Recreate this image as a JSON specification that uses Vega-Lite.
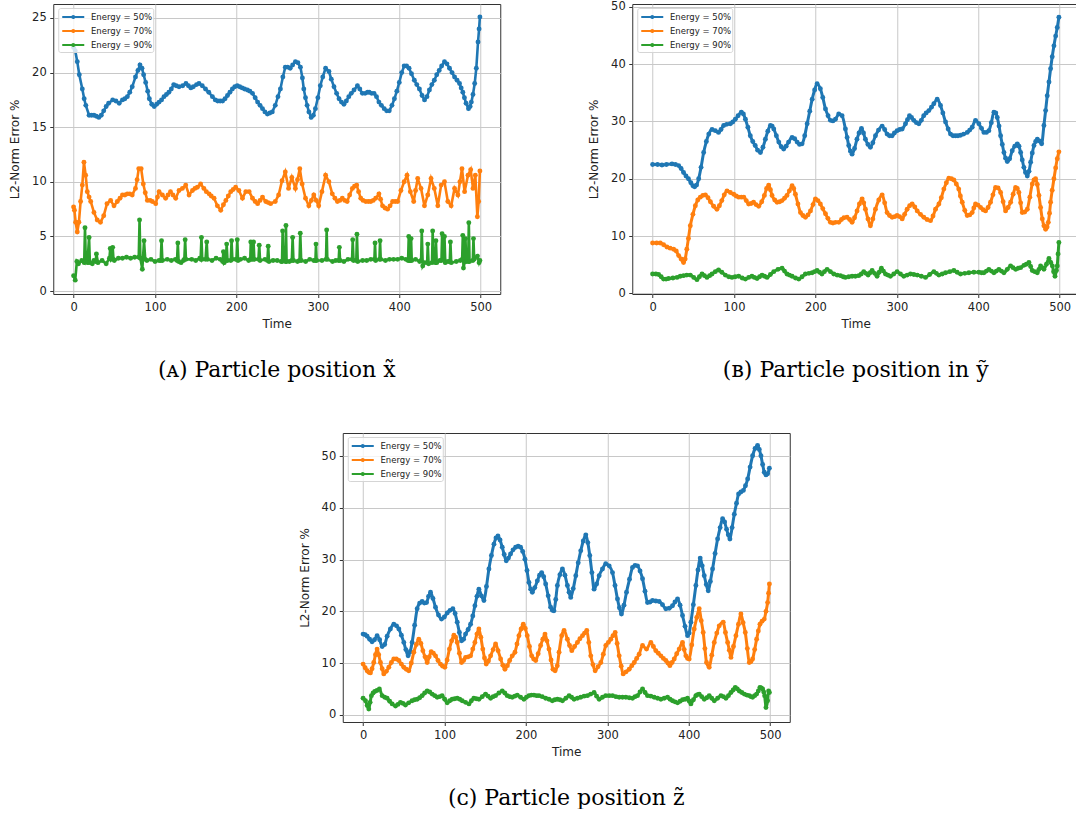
{
"$schema":"https://vega.github.io/schema/vega-lite/v6.json",
"background":"white",
"padding":{"left":8,"top":0,"right":0,"bottom":0},
"datasets":{
"a5":[{"t":0,"v":22.3},{"t":2,"v":22.0},{"t":4.5,"v":21.0},{"t":7,"v":19.8},{"t":10.7,"v":18.5},{"t":13,"v":17.6},{"t":15,"v":17.0},{"t":19,"v":16.1},{"t":22,"v":16.1},{"t":25,"v":16.1},{"t":28,"v":16.0},{"t":31,"v":15.9},{"t":34,"v":16.1},{"t":37,"v":16.5},{"t":40,"v":16.9},{"t":43,"v":17.2},{"t":48,"v":17.5},{"t":52,"v":17.4},{"t":56,"v":17.2},{"t":60,"v":17.5},{"t":63,"v":17.6},{"t":66,"v":17.8},{"t":69,"v":18.2},{"t":72,"v":18.7},{"t":76,"v":19.6},{"t":79,"v":20.2},{"t":81.5,"v":20.7},{"t":84,"v":20.4},{"t":86,"v":19.8},{"t":88.5,"v":19.1},{"t":91,"v":18.3},{"t":93,"v":17.6},{"t":96,"v":17.1},{"t":99,"v":16.9},{"t":102,"v":17.1},{"t":105,"v":17.3},{"t":108,"v":17.5},{"t":111,"v":17.8},{"t":114,"v":18.0},{"t":117,"v":18.2},{"t":120,"v":18.5},{"t":123,"v":18.9},{"t":126,"v":18.8},{"t":129.5,"v":18.7},{"t":134,"v":18.8},{"t":138,"v":19.0},{"t":141,"v":18.8},{"t":144,"v":18.6},{"t":147,"v":18.7},{"t":151,"v":18.9},{"t":154,"v":19.0},{"t":158,"v":18.8},{"t":162,"v":18.5},{"t":166,"v":18.2},{"t":170.5,"v":17.8},{"t":174,"v":17.5},{"t":177,"v":17.4},{"t":180,"v":17.4},{"t":183,"v":17.4},{"t":186,"v":17.6},{"t":189,"v":17.9},{"t":192,"v":18.2},{"t":195,"v":18.5},{"t":198,"v":18.7},{"t":201,"v":18.8},{"t":204,"v":18.7},{"t":207,"v":18.6},{"t":210,"v":18.5},{"t":213.5,"v":18.4},{"t":216.5,"v":18.3},{"t":219.7,"v":18.1},{"t":223,"v":17.7},{"t":226,"v":17.3},{"t":229,"v":17.0},{"t":232,"v":16.7},{"t":235,"v":16.4},{"t":238,"v":16.2},{"t":241,"v":16.3},{"t":244,"v":16.4},{"t":247.7,"v":17.0},{"t":251,"v":17.8},{"t":254,"v":18.5},{"t":257,"v":19.6},{"t":260,"v":20.5},{"t":263,"v":20.5},{"t":266,"v":20.4},{"t":269,"v":20.7},{"t":272.4,"v":21.0},{"t":275.5,"v":20.9},{"t":278.6,"v":20.5},{"t":281,"v":19.5},{"t":282.7,"v":18.5},{"t":284.8,"v":17.7},{"t":286.8,"v":17.0},{"t":289,"v":16.4},{"t":291.8,"v":15.9},{"t":294.5,"v":16.1},{"t":297,"v":16.7},{"t":300,"v":17.7},{"t":303,"v":18.8},{"t":306,"v":19.6},{"t":309.5,"v":20.4},{"t":313.6,"v":20.1},{"t":316.5,"v":19.4},{"t":319.8,"v":18.7},{"t":323,"v":18.1},{"t":326,"v":17.6},{"t":329,"v":17.3},{"t":332,"v":17.1},{"t":335,"v":17.4},{"t":338,"v":17.8},{"t":341,"v":18.1},{"t":344.4,"v":18.4},{"t":348.6,"v":18.8},{"t":351.5,"v":18.5},{"t":354.7,"v":18.1},{"t":358,"v":18.1},{"t":361,"v":18.2},{"t":363,"v":18.2},{"t":366,"v":18.1},{"t":369,"v":18.1},{"t":372,"v":17.8},{"t":375,"v":17.3},{"t":378,"v":17.0},{"t":381.5,"v":16.7},{"t":384.5,"v":16.5},{"t":387.7,"v":16.5},{"t":391,"v":17.0},{"t":394,"v":17.6},{"t":397,"v":18.3},{"t":400,"v":19.1},{"t":403,"v":20.0},{"t":406,"v":20.6},{"t":409,"v":20.6},{"t":412,"v":20.4},{"t":415,"v":19.9},{"t":418.5,"v":19.3},{"t":421.5,"v":18.9},{"t":424.7,"v":18.5},{"t":428,"v":17.9},{"t":431,"v":17.5},{"t":434,"v":17.8},{"t":437,"v":18.4},{"t":440,"v":18.9},{"t":443,"v":19.3},{"t":446,"v":19.8},{"t":449,"v":20.2},{"t":452,"v":20.6},{"t":455.5,"v":21.0},{"t":458.5,"v":20.8},{"t":461.7,"v":20.4},{"t":464.8,"v":20.0},{"t":467.9,"v":19.6},{"t":471,"v":19.3},{"t":474,"v":19.0},{"t":476,"v":18.6},{"t":478,"v":18.2},{"t":480,"v":17.7},{"t":482,"v":17.2},{"t":485,"v":16.7},{"t":487,"v":16.9},{"t":488.5,"v":17.3},{"t":490.5,"v":18.0},{"t":492.6,"v":19.0},{"t":494.6,"v":20.4},{"t":496.7,"v":22.8},{"t":498,"v":24.0},{"t":499,"v":25.1}],
"a7":[{"t":0,"v":7.7},{"t":1,"v":7.4},{"t":2.5,"v":6.3},{"t":4.5,"v":5.4},{"t":6.5,"v":6.3},{"t":8.6,"v":8.2},{"t":10.7,"v":9.7},{"t":12.7,"v":11.8},{"t":14.8,"v":10.6},{"t":16.8,"v":9.1},{"t":19,"v":8.6},{"t":21,"v":8.2},{"t":25,"v":7.2},{"t":29,"v":6.5},{"t":33,"v":6.3},{"t":37,"v":6.9},{"t":41,"v":8.0},{"t":45.5,"v":8.3},{"t":49.6,"v":7.8},{"t":53.7,"v":8.2},{"t":57,"v":8.5},{"t":60,"v":8.8},{"t":63,"v":8.8},{"t":66,"v":8.9},{"t":69,"v":8.9},{"t":72,"v":8.8},{"t":76,"v":9.4},{"t":78,"v":10.2},{"t":80,"v":11.2},{"t":83,"v":11.2},{"t":85.6,"v":9.8},{"t":88,"v":9.0},{"t":90.6,"v":8.3},{"t":94,"v":8.3},{"t":96.7,"v":8.2},{"t":100.8,"v":8.0},{"t":103,"v":8.6},{"t":105,"v":9.1},{"t":109,"v":8.8},{"t":113,"v":8.5},{"t":116,"v":8.8},{"t":119,"v":9.1},{"t":122,"v":8.8},{"t":125.4,"v":8.5},{"t":129.5,"v":9.2},{"t":133.6,"v":9.4},{"t":137.7,"v":9.7},{"t":141.8,"v":8.8},{"t":146,"v":9.2},{"t":149,"v":9.4},{"t":152,"v":9.5},{"t":156,"v":9.8},{"t":160,"v":9.4},{"t":163,"v":9.1},{"t":166.4,"v":8.9},{"t":169,"v":8.7},{"t":172.5,"v":8.5},{"t":176.6,"v":7.8},{"t":180.7,"v":7.4},{"t":184,"v":7.9},{"t":187,"v":8.3},{"t":190,"v":8.7},{"t":193,"v":9.1},{"t":196,"v":9.3},{"t":199,"v":9.5},{"t":203,"v":9.2},{"t":207.4,"v":8.5},{"t":211.5,"v":9.1},{"t":215.6,"v":9.1},{"t":219.7,"v":8.5},{"t":223,"v":8.2},{"t":226,"v":8.0},{"t":229,"v":8.3},{"t":232,"v":8.6},{"t":236,"v":8.2},{"t":239,"v":8.1},{"t":242,"v":8.0},{"t":247.7,"v":8.2},{"t":251.8,"v":8.8},{"t":256,"v":10.1},{"t":260,"v":10.9},{"t":264,"v":9.4},{"t":268,"v":10.4},{"t":272.4,"v":9.4},{"t":275,"v":10.2},{"t":277.8,"v":11.2},{"t":280.7,"v":9.8},{"t":284.8,"v":8.5},{"t":288.9,"v":7.8},{"t":292,"v":8.3},{"t":295,"v":8.8},{"t":298,"v":8.3},{"t":301,"v":7.8},{"t":305,"v":9.1},{"t":309.5,"v":10.6},{"t":313.6,"v":10.0},{"t":317.7,"v":8.9},{"t":321,"v":8.5},{"t":324,"v":8.2},{"t":327,"v":8.3},{"t":330,"v":8.5},{"t":333,"v":8.3},{"t":336,"v":8.2},{"t":339,"v":8.8},{"t":342.4,"v":9.4},{"t":345,"v":9.6},{"t":347.7,"v":9.7},{"t":350,"v":9.1},{"t":352.7,"v":8.5},{"t":355.5,"v":8.3},{"t":358.8,"v":8.2},{"t":362,"v":8.2},{"t":365,"v":8.2},{"t":368,"v":8.3},{"t":371,"v":8.5},{"t":375,"v":8.9},{"t":377,"v":8.4},{"t":379.4,"v":7.8},{"t":382.5,"v":7.6},{"t":385.6,"v":7.5},{"t":388.7,"v":7.8},{"t":391.8,"v":8.2},{"t":395,"v":8.2},{"t":398,"v":8.2},{"t":402,"v":9.2},{"t":406,"v":10.0},{"t":409.5,"v":10.6},{"t":413.6,"v":9.1},{"t":417.7,"v":8.2},{"t":420,"v":9.2},{"t":422.6,"v":10.3},{"t":426.7,"v":9.4},{"t":430.9,"v":7.8},{"t":435,"v":8.8},{"t":439,"v":10.3},{"t":443,"v":9.4},{"t":447.3,"v":7.8},{"t":451.4,"v":9.7},{"t":455.5,"v":10.0},{"t":459.6,"v":8.2},{"t":463.7,"v":7.8},{"t":467.9,"v":9.4},{"t":472,"v":8.8},{"t":474.5,"v":10.0},{"t":477,"v":11.2},{"t":480.2,"v":9.1},{"t":484.4,"v":10.6},{"t":487.7,"v":11.1},{"t":490.5,"v":9.4},{"t":493.4,"v":10.6},{"t":495.9,"v":6.8},{"t":497.5,"v":8.2},{"t":499,"v":11.0}],
"a9":[{"t":0,"v":1.4},{"t":2,"v":1.0},{"t":4,"v":2.7},{"t":6,"v":2.5},{"t":10,"v":2.8},{"t":13,"v":2.6},{"t":14,"v":5.8},{"t":15,"v":2.7},{"t":17,"v":2.6},{"t":19,"v":4.9},{"t":20,"v":2.6},{"t":23,"v":2.5},{"t":25,"v":2.8},{"t":27,"v":2.7},{"t":28,"v":3.4},{"t":30,"v":2.6},{"t":35,"v":2.8},{"t":40,"v":2.5},{"t":44,"v":3.0},{"t":45,"v":3.9},{"t":46,"v":2.9},{"t":47,"v":3.0},{"t":48,"v":4.0},{"t":49,"v":2.9},{"t":50,"v":2.8},{"t":55,"v":3.0},{"t":60,"v":3.0},{"t":65,"v":3.1},{"t":70,"v":3.0},{"t":75,"v":3.1},{"t":80,"v":3.1},{"t":81,"v":6.5},{"t":82,"v":3.0},{"t":84.4,"v":2.0},{"t":86.5,"v":4.6},{"t":88,"v":2.9},{"t":90,"v":2.8},{"t":95,"v":2.9},{"t":100,"v":2.7},{"t":105,"v":2.8},{"t":107,"v":2.8},{"t":108,"v":4.6},{"t":109,"v":2.8},{"t":115,"v":2.9},{"t":120,"v":2.8},{"t":125,"v":2.9},{"t":127,"v":2.8},{"t":128,"v":4.4},{"t":129,"v":2.7},{"t":132,"v":2.6},{"t":135,"v":2.8},{"t":136,"v":2.9},{"t":137,"v":4.7},{"t":138,"v":2.9},{"t":145,"v":2.9},{"t":150,"v":2.8},{"t":155,"v":3.0},{"t":156,"v":2.9},{"t":157,"v":4.9},{"t":158,"v":2.9},{"t":162,"v":2.9},{"t":163.5,"v":4.5},{"t":164.5,"v":2.9},{"t":170,"v":2.8},{"t":175,"v":3.0},{"t":180,"v":2.9},{"t":183,"v":2.7},{"t":184,"v":3.6},{"t":185,"v":2.6},{"t":187,"v":2.8},{"t":188,"v":4.3},{"t":189,"v":2.8},{"t":193,"v":2.8},{"t":194,"v":4.6},{"t":195,"v":2.9},{"t":199,"v":2.9},{"t":200,"v":2.9},{"t":201,"v":4.7},{"t":202,"v":2.8},{"t":205,"v":2.9},{"t":210,"v":3.0},{"t":215,"v":2.8},{"t":217,"v":2.9},{"t":217.6,"v":4.5},{"t":218.5,"v":2.9},{"t":220.3,"v":2.9},{"t":221,"v":4.5},{"t":222,"v":2.9},{"t":227,"v":2.9},{"t":228,"v":4.2},{"t":229,"v":2.8},{"t":235,"v":2.9},{"t":238,"v":2.8},{"t":239,"v":4.1},{"t":240,"v":2.7},{"t":245,"v":2.8},{"t":250,"v":2.8},{"t":255,"v":2.7},{"t":256,"v":2.7},{"t":256.7,"v":5.5},{"t":257.5,"v":2.8},{"t":260,"v":2.7},{"t":260.8,"v":6.0},{"t":261.6,"v":2.7},{"t":265,"v":2.7},{"t":268,"v":2.8},{"t":269,"v":4.9},{"t":270,"v":2.8},{"t":275,"v":2.7},{"t":277.5,"v":2.8},{"t":278.4,"v":5.3},{"t":279.5,"v":2.8},{"t":285,"v":2.7},{"t":290,"v":2.9},{"t":295,"v":2.8},{"t":297,"v":2.8},{"t":297.7,"v":4.3},{"t":298.5,"v":2.8},{"t":305,"v":2.8},{"t":310,"v":2.9},{"t":310.8,"v":5.6},{"t":311.6,"v":2.9},{"t":318,"v":2.7},{"t":322,"v":2.8},{"t":325.5,"v":2.8},{"t":326.4,"v":4.0},{"t":327.3,"v":2.8},{"t":332,"v":2.7},{"t":337,"v":2.9},{"t":342,"v":2.9},{"t":342.8,"v":4.7},{"t":343.8,"v":2.8},{"t":347.2,"v":2.8},{"t":348,"v":5.2},{"t":349,"v":2.7},{"t":355,"v":2.8},{"t":360,"v":2.8},{"t":365,"v":2.9},{"t":369.4,"v":2.9},{"t":370.2,"v":4.4},{"t":371,"v":2.8},{"t":375.6,"v":2.9},{"t":376.4,"v":4.6},{"t":377.2,"v":2.9},{"t":383,"v":2.8},{"t":388,"v":2.9},{"t":393,"v":2.9},{"t":398,"v":2.9},{"t":403,"v":3.0},{"t":408,"v":2.9},{"t":410.8,"v":2.8},{"t":411.6,"v":5.0},{"t":412.5,"v":2.8},{"t":413.8,"v":2.8},{"t":414.5,"v":4.8},{"t":415.3,"v":2.8},{"t":420,"v":2.9},{"t":425,"v":2.7},{"t":426.8,"v":2.8},{"t":427.6,"v":5.5},{"t":428.8,"v":2.3},{"t":431,"v":2.6},{"t":434.2,"v":2.6},{"t":435,"v":4.3},{"t":436,"v":2.5},{"t":440.2,"v":2.6},{"t":441,"v":5.5},{"t":442,"v":2.7},{"t":444.2,"v":2.6},{"t":445,"v":4.6},{"t":446,"v":2.6},{"t":450,"v":2.8},{"t":451.8,"v":2.8},{"t":452.6,"v":5.25},{"t":453.6,"v":2.9},{"t":454.8,"v":2.9},{"t":455.5,"v":5.0},{"t":456.5,"v":2.6},{"t":460,"v":2.7},{"t":462,"v":2.7},{"t":462.8,"v":4.5},{"t":463.8,"v":2.6},{"t":470,"v":2.7},{"t":475,"v":2.8},{"t":477.2,"v":2.9},{"t":478,"v":5.1},{"t":478.8,"v":2.1},{"t":480.5,"v":2.7},{"t":481.3,"v":4.8},{"t":482.2,"v":2.7},{"t":484.6,"v":2.7},{"t":485.4,"v":6.26},{"t":486.3,"v":2.7},{"t":490.3,"v":2.8},{"t":491.1,"v":4.8},{"t":492,"v":2.9},{"t":496,"v":3.2},{"t":498,"v":2.6},{"t":499,"v":2.8}],
"b5":[{"t":0,"v":22.5},{"t":6,"v":22.5},{"t":11.5,"v":22.4},{"t":17,"v":22.5},{"t":23.8,"v":22.6},{"t":28,"v":22.5},{"t":32,"v":22.3},{"t":35,"v":21.8},{"t":38,"v":21.1},{"t":41,"v":20.5},{"t":44,"v":20.0},{"t":47,"v":19.3},{"t":49.5,"v":18.8},{"t":51.6,"v":18.6},{"t":54,"v":18.9},{"t":56.6,"v":20.0},{"t":59.5,"v":22.0},{"t":62.7,"v":24.6},{"t":66,"v":26.5},{"t":69,"v":27.8},{"t":73,"v":28.6},{"t":77,"v":28.4},{"t":81,"v":28.1},{"t":84,"v":28.6},{"t":87.3,"v":29.3},{"t":91,"v":29.5},{"t":95.5,"v":29.6},{"t":98.5,"v":29.9},{"t":101.6,"v":30.4},{"t":105,"v":31.0},{"t":109,"v":31.6},{"t":111.5,"v":31.3},{"t":114,"v":30.4},{"t":117,"v":29.0},{"t":120,"v":27.5},{"t":123,"v":26.5},{"t":126,"v":25.8},{"t":129,"v":25.0},{"t":132.4,"v":24.6},{"t":135.5,"v":25.5},{"t":138.5,"v":26.9},{"t":141.5,"v":28.3},{"t":144.7,"v":29.3},{"t":146.8,"v":29.2},{"t":148.8,"v":28.7},{"t":152,"v":27.5},{"t":155,"v":26.4},{"t":158,"v":25.6},{"t":161,"v":25.2},{"t":164,"v":25.7},{"t":167,"v":26.4},{"t":171.3,"v":27.2},{"t":174.5,"v":27.0},{"t":177.5,"v":26.4},{"t":180.5,"v":26.0},{"t":183.6,"v":26.1},{"t":186.8,"v":27.5},{"t":189.8,"v":29.6},{"t":193,"v":31.8},{"t":196,"v":33.9},{"t":199,"v":35.5},{"t":202,"v":36.6},{"t":206,"v":35.7},{"t":209,"v":34.2},{"t":212.3,"v":32.2},{"t":215.5,"v":31.0},{"t":218.4,"v":30.2},{"t":221.5,"v":30.1},{"t":224.6,"v":30.4},{"t":228.6,"v":31.3},{"t":232.7,"v":31.0},{"t":236.8,"v":28.7},{"t":238.9,"v":27.2},{"t":240.9,"v":25.8},{"t":243,"v":24.8},{"t":245,"v":24.3},{"t":248,"v":25.3},{"t":251,"v":26.9},{"t":253.5,"v":28.0},{"t":256.5,"v":28.8},{"t":259,"v":28.0},{"t":261.4,"v":26.9},{"t":264.5,"v":26.0},{"t":267.5,"v":25.5},{"t":270.5,"v":26.3},{"t":273.7,"v":27.5},{"t":277.5,"v":28.5},{"t":281.9,"v":29.2},{"t":285,"v":28.6},{"t":288,"v":27.8},{"t":291,"v":27.5},{"t":294.2,"v":27.5},{"t":297,"v":28.0},{"t":300.3,"v":28.4},{"t":303.5,"v":28.6},{"t":306.5,"v":28.7},{"t":310.6,"v":29.6},{"t":313,"v":30.3},{"t":315.5,"v":31.0},{"t":318,"v":30.7},{"t":320.8,"v":30.2},{"t":324,"v":29.8},{"t":327,"v":29.6},{"t":330,"v":30.2},{"t":333,"v":31.0},{"t":336,"v":31.5},{"t":339.3,"v":31.9},{"t":342.5,"v":32.5},{"t":345.4,"v":33.1},{"t":349.5,"v":33.9},{"t":353.6,"v":32.8},{"t":356.5,"v":31.5},{"t":359.8,"v":29.9},{"t":363,"v":28.7},{"t":365.9,"v":27.8},{"t":369,"v":27.5},{"t":372,"v":27.5},{"t":375,"v":27.5},{"t":378.2,"v":27.6},{"t":382,"v":27.8},{"t":386.4,"v":28.1},{"t":389.5,"v":28.5},{"t":392.5,"v":29.0},{"t":396.6,"v":30.2},{"t":400.7,"v":29.6},{"t":404,"v":28.8},{"t":406.9,"v":28.1},{"t":410,"v":28.1},{"t":413,"v":28.4},{"t":416,"v":29.8},{"t":419.2,"v":31.6},{"t":421.5,"v":31.5},{"t":423.3,"v":30.7},{"t":425.5,"v":29.2},{"t":427.4,"v":27.5},{"t":429.5,"v":26.0},{"t":431.5,"v":24.6},{"t":433.5,"v":23.6},{"t":435.6,"v":23.0},{"t":438.5,"v":23.5},{"t":441.7,"v":24.9},{"t":444.8,"v":25.7},{"t":447.9,"v":26.1},{"t":450,"v":25.7},{"t":452,"v":24.6},{"t":454,"v":23.3},{"t":456,"v":22.0},{"t":458,"v":21.1},{"t":460.2,"v":20.5},{"t":462.3,"v":21.3},{"t":464.3,"v":22.9},{"t":466.3,"v":24.5},{"t":468.4,"v":25.8},{"t":470.5,"v":26.5},{"t":472.5,"v":26.9},{"t":475,"v":26.6},{"t":477.8,"v":26.1},{"t":480.6,"v":29.3},{"t":482.7,"v":31.9},{"t":484.7,"v":34.5},{"t":486.8,"v":36.9},{"t":488.8,"v":39.2},{"t":490.8,"v":41.3},{"t":492.9,"v":43.2},{"t":495,"v":44.9},{"t":497,"v":46.4},{"t":499,"v":48.2}],
"b7":[{"t":0,"v":8.8},{"t":5,"v":8.8},{"t":9.4,"v":8.8},{"t":13.5,"v":8.5},{"t":17.6,"v":8.1},{"t":21.5,"v":7.9},{"t":25.8,"v":7.7},{"t":29,"v":7.4},{"t":32,"v":6.6},{"t":35,"v":6.0},{"t":38,"v":5.4},{"t":40,"v":6.0},{"t":42,"v":7.7},{"t":44,"v":9.6},{"t":46.3,"v":11.8},{"t":49.5,"v":13.8},{"t":52.5,"v":15.3},{"t":55.5,"v":16.3},{"t":58.6,"v":16.8},{"t":61.7,"v":17.1},{"t":64.8,"v":17.2},{"t":68,"v":16.7},{"t":71,"v":16.0},{"t":75,"v":15.2},{"t":79,"v":14.7},{"t":82,"v":15.3},{"t":85,"v":16.2},{"t":88,"v":17.2},{"t":91.4,"v":17.9},{"t":95.5,"v":17.6},{"t":99.6,"v":17.3},{"t":102.6,"v":17.0},{"t":105.7,"v":16.8},{"t":109,"v":16.8},{"t":112,"v":16.8},{"t":115,"v":16.2},{"t":118,"v":15.6},{"t":121,"v":15.7},{"t":124,"v":15.9},{"t":127,"v":15.5},{"t":130.3,"v":15.2},{"t":134,"v":16.0},{"t":137.3,"v":17.1},{"t":140,"v":18.3},{"t":142.6,"v":18.9},{"t":144.7,"v":18.1},{"t":146.7,"v":17.1},{"t":150,"v":16.3},{"t":152.9,"v":15.9},{"t":156,"v":16.0},{"t":159,"v":16.2},{"t":162,"v":16.6},{"t":165,"v":17.1},{"t":168,"v":17.9},{"t":171.3,"v":18.8},{"t":173.3,"v":18.3},{"t":175.4,"v":17.3},{"t":178.5,"v":15.6},{"t":181.6,"v":14.1},{"t":184.6,"v":13.6},{"t":187.7,"v":13.3},{"t":190.8,"v":13.7},{"t":193.9,"v":14.4},{"t":197,"v":15.5},{"t":200,"v":16.5},{"t":203,"v":16.2},{"t":206,"v":15.6},{"t":209,"v":14.8},{"t":212.3,"v":13.9},{"t":215.3,"v":13.1},{"t":218.4,"v":12.4},{"t":221.5,"v":12.3},{"t":224.6,"v":12.4},{"t":228.6,"v":12.4},{"t":232,"v":12.9},{"t":235,"v":13.2},{"t":238.8,"v":13.3},{"t":242,"v":12.9},{"t":245,"v":12.4},{"t":248,"v":13.2},{"t":251.1,"v":14.4},{"t":254,"v":15.6},{"t":257.3,"v":16.5},{"t":259.3,"v":15.8},{"t":261.4,"v":14.7},{"t":264.5,"v":13.0},{"t":267.5,"v":11.8},{"t":270.5,"v":13.0},{"t":273.7,"v":14.7},{"t":277.8,"v":16.3},{"t":281.9,"v":17.2},{"t":285,"v":15.8},{"t":288,"v":14.1},{"t":291,"v":13.6},{"t":294.2,"v":13.3},{"t":297.3,"v":13.4},{"t":300.3,"v":13.6},{"t":303.4,"v":13.4},{"t":306.5,"v":13.0},{"t":309.5,"v":13.8},{"t":312.6,"v":14.7},{"t":315.7,"v":15.3},{"t":318.8,"v":15.6},{"t":322,"v":15.1},{"t":325,"v":14.4},{"t":329,"v":13.8},{"t":333.1,"v":13.3},{"t":337,"v":12.9},{"t":341.3,"v":12.7},{"t":344.4,"v":13.5},{"t":347.5,"v":14.7},{"t":351.6,"v":15.6},{"t":354.6,"v":16.7},{"t":357.7,"v":18.2},{"t":360.8,"v":19.3},{"t":363.8,"v":20.1},{"t":367,"v":20.0},{"t":370,"v":19.8},{"t":373,"v":19.1},{"t":376,"v":18.2},{"t":378,"v":17.0},{"t":380.3,"v":15.9},{"t":383.4,"v":14.5},{"t":386.4,"v":13.6},{"t":389.5,"v":13.7},{"t":392.5,"v":14.1},{"t":394.5,"v":14.9},{"t":396.6,"v":15.6},{"t":399.7,"v":15.4},{"t":402.8,"v":15.0},{"t":405.9,"v":14.6},{"t":408.9,"v":14.4},{"t":412,"v":15.0},{"t":415,"v":15.9},{"t":418,"v":17.2},{"t":421.2,"v":18.5},{"t":424.3,"v":18.4},{"t":427.4,"v":17.6},{"t":430.5,"v":16.0},{"t":433.5,"v":14.4},{"t":436.6,"v":15.0},{"t":439.7,"v":15.9},{"t":442.8,"v":17.3},{"t":445.8,"v":18.5},{"t":447.9,"v":18.3},{"t":449.9,"v":17.6},{"t":452,"v":15.8},{"t":454,"v":14.1},{"t":457,"v":14.2},{"t":460.2,"v":14.7},{"t":463.3,"v":16.8},{"t":466.3,"v":19.1},{"t":468.4,"v":19.8},{"t":470.4,"v":20.0},{"t":472.5,"v":19.0},{"t":474.5,"v":17.1},{"t":476.5,"v":15.0},{"t":478.6,"v":13.0},{"t":480.6,"v":11.8},{"t":482.7,"v":11.2},{"t":484.5,"v":11.6},{"t":486,"v":12.4},{"t":487.5,"v":14.0},{"t":488.8,"v":15.9},{"t":490.8,"v":18.0},{"t":492.9,"v":20.0},{"t":495,"v":21.9},{"t":497,"v":23.5},{"t":499,"v":24.7}],
"b9":[{"t":0,"v":3.4},{"t":4,"v":3.4},{"t":7.4,"v":3.3},{"t":10.5,"v":2.9},{"t":13.5,"v":2.5},{"t":16.5,"v":2.5},{"t":19.7,"v":2.6},{"t":25,"v":2.7},{"t":30,"v":2.8},{"t":34,"v":3.0},{"t":38,"v":3.1},{"t":42,"v":3.2},{"t":46.3,"v":3.2},{"t":50.5,"v":2.8},{"t":54.5,"v":2.4},{"t":57.5,"v":2.9},{"t":60.7,"v":3.4},{"t":63.7,"v":3.1},{"t":66.8,"v":2.8},{"t":70,"v":3.1},{"t":73,"v":3.4},{"t":77,"v":3.8},{"t":81,"v":4.1},{"t":85,"v":3.7},{"t":89.3,"v":3.2},{"t":93.5,"v":2.9},{"t":97.5,"v":2.8},{"t":101.5,"v":2.9},{"t":105.7,"v":3.0},{"t":110,"v":2.7},{"t":114,"v":2.5},{"t":118,"v":2.8},{"t":122,"v":3.0},{"t":125,"v":2.8},{"t":128.3,"v":2.6},{"t":131.4,"v":2.9},{"t":134.4,"v":3.2},{"t":137.5,"v":3.0},{"t":140.6,"v":2.8},{"t":144.7,"v":3.3},{"t":148.8,"v":3.8},{"t":154,"v":4.2},{"t":159,"v":4.4},{"t":162,"v":3.9},{"t":165,"v":3.4},{"t":168,"v":3.2},{"t":171.3,"v":3.0},{"t":175.5,"v":2.7},{"t":179.5,"v":2.5},{"t":183.6,"v":2.9},{"t":187.7,"v":3.4},{"t":192,"v":3.5},{"t":196,"v":3.6},{"t":199,"v":3.8},{"t":202,"v":4.0},{"t":205,"v":3.7},{"t":208,"v":3.4},{"t":211,"v":3.8},{"t":214.3,"v":4.2},{"t":218.4,"v":3.8},{"t":222.5,"v":3.4},{"t":226.6,"v":3.2},{"t":230.7,"v":3.1},{"t":234,"v":2.9},{"t":236.8,"v":2.8},{"t":241,"v":2.9},{"t":245,"v":3.0},{"t":249,"v":3.0},{"t":253.2,"v":3.1},{"t":256.3,"v":3.4},{"t":259.3,"v":3.8},{"t":262,"v":3.5},{"t":264.7,"v":3.2},{"t":267.2,"v":3.6},{"t":269.6,"v":4.0},{"t":272.7,"v":3.5},{"t":275.7,"v":3.0},{"t":278.3,"v":3.7},{"t":281,"v":4.4},{"t":283.5,"v":3.9},{"t":286,"v":3.4},{"t":289,"v":3.2},{"t":292.1,"v":3.0},{"t":296.2,"v":3.4},{"t":300.3,"v":3.8},{"t":304.4,"v":3.4},{"t":308.5,"v":3.0},{"t":312.6,"v":3.2},{"t":316.7,"v":3.4},{"t":320.8,"v":3.3},{"t":325,"v":3.2},{"t":330,"v":3.0},{"t":335.2,"v":2.8},{"t":340.3,"v":3.3},{"t":345.4,"v":3.8},{"t":348.5,"v":3.5},{"t":351.6,"v":3.2},{"t":355.7,"v":3.4},{"t":359.8,"v":3.6},{"t":365,"v":3.8},{"t":370,"v":4.0},{"t":374,"v":3.7},{"t":378.2,"v":3.4},{"t":383.4,"v":3.5},{"t":388.5,"v":3.6},{"t":394.6,"v":3.7},{"t":400.7,"v":3.7},{"t":404,"v":3.6},{"t":406.9,"v":3.6},{"t":410,"v":3.9},{"t":413,"v":4.2},{"t":416.1,"v":3.9},{"t":419.2,"v":3.6},{"t":422.2,"v":3.9},{"t":425.3,"v":4.2},{"t":428.4,"v":3.9},{"t":431.5,"v":3.6},{"t":435.6,"v":4.2},{"t":439.7,"v":4.8},{"t":442.7,"v":4.5},{"t":445.8,"v":4.2},{"t":448.9,"v":4.4},{"t":452,"v":4.5},{"t":456,"v":4.9},{"t":459,"v":5.1},{"t":462.2,"v":5.4},{"t":464.3,"v":4.7},{"t":466.3,"v":4.0},{"t":469.4,"v":3.8},{"t":472.5,"v":3.6},{"t":474.5,"v":4.2},{"t":476.5,"v":4.8},{"t":478.5,"v":4.5},{"t":480.6,"v":4.2},{"t":483.7,"v":5.1},{"t":486.8,"v":6.1},{"t":489,"v":5.4},{"t":491,"v":4.8},{"t":492.5,"v":3.8},{"t":494.2,"v":3.0},{"t":496,"v":4.0},{"t":497,"v":4.8},{"t":498,"v":6.9},{"t":499,"v":8.9}],
"c5":[{"t":0,"v":15.6},{"t":2.5,"v":15.5},{"t":4.9,"v":15.2},{"t":8,"v":14.6},{"t":11,"v":14.1},{"t":14,"v":14.5},{"t":17.2,"v":15.3},{"t":20.3,"v":14.5},{"t":23.4,"v":13.2},{"t":26.5,"v":13.6},{"t":29.5,"v":15.2},{"t":33.5,"v":16.6},{"t":37.7,"v":17.5},{"t":41,"v":17.2},{"t":43.9,"v":16.6},{"t":47,"v":15.4},{"t":50,"v":14.0},{"t":52.5,"v":12.6},{"t":55.3,"v":11.4},{"t":57.8,"v":12.2},{"t":60.2,"v":14.0},{"t":63.3,"v":17.3},{"t":66.4,"v":20.5},{"t":69.5,"v":21.6},{"t":72.5,"v":21.9},{"t":75.2,"v":21.6},{"t":77.9,"v":21.7},{"t":80.4,"v":22.9},{"t":82.8,"v":23.7},{"t":85.8,"v":22.5},{"t":88.9,"v":20.8},{"t":92.6,"v":19.3},{"t":96.3,"v":18.5},{"t":99.8,"v":18.9},{"t":103.3,"v":19.7},{"t":106.8,"v":20.2},{"t":110.2,"v":20.5},{"t":113,"v":19.6},{"t":115.6,"v":17.9},{"t":118.3,"v":15.9},{"t":120.9,"v":14.3},{"t":123.4,"v":14.6},{"t":125.8,"v":15.6},{"t":129,"v":16.5},{"t":132,"v":17.5},{"t":134.7,"v":19.1},{"t":137.3,"v":21.1},{"t":139.8,"v":22.9},{"t":142.2,"v":24.3},{"t":145.3,"v":23.0},{"t":148.4,"v":22.1},{"t":151.5,"v":24.8},{"t":154.5,"v":28.2},{"t":157.6,"v":30.8},{"t":160.7,"v":33.0},{"t":163.2,"v":34.2},{"t":165.6,"v":34.6},{"t":168.2,"v":33.8},{"t":170.9,"v":32.4},{"t":173.3,"v":31.0},{"t":175.8,"v":29.8},{"t":178.5,"v":30.3},{"t":181.1,"v":31.1},{"t":184.2,"v":31.9},{"t":187.3,"v":32.4},{"t":190.4,"v":32.6},{"t":193.4,"v":32.4},{"t":196,"v":31.6},{"t":198.8,"v":30.1},{"t":201.3,"v":27.9},{"t":203.7,"v":25.6},{"t":205.8,"v":24.3},{"t":207.8,"v":23.7},{"t":210.9,"v":24.6},{"t":214,"v":25.9},{"t":216.7,"v":27.0},{"t":219.3,"v":27.5},{"t":221.8,"v":26.7},{"t":224.2,"v":25.3},{"t":227.3,"v":23.0},{"t":230.3,"v":20.8},{"t":232.4,"v":20.2},{"t":234.4,"v":20.1},{"t":236.6,"v":22.3},{"t":238.6,"v":25.0},{"t":241.7,"v":27.1},{"t":244.8,"v":28.2},{"t":247.9,"v":27.0},{"t":250.9,"v":25.0},{"t":253,"v":23.7},{"t":255,"v":22.7},{"t":258.1,"v":24.4},{"t":261.2,"v":26.9},{"t":264.2,"v":29.4},{"t":267.3,"v":31.7},{"t":270.4,"v":33.6},{"t":273.5,"v":34.8},{"t":276,"v":33.3},{"t":278.4,"v":30.8},{"t":281,"v":27.5},{"t":283.7,"v":24.3},{"t":286.8,"v":25.3},{"t":289.9,"v":26.9},{"t":294,"v":28.2},{"t":298,"v":29.2},{"t":302.2,"v":28.8},{"t":306.3,"v":27.5},{"t":309.4,"v":25.0},{"t":312.4,"v":22.4},{"t":314.8,"v":20.7},{"t":317.3,"v":19.5},{"t":320.4,"v":21.2},{"t":323.5,"v":23.7},{"t":327.2,"v":26.2},{"t":330.9,"v":28.5},{"t":334,"v":28.9},{"t":337,"v":28.8},{"t":340.1,"v":27.8},{"t":343.2,"v":26.3},{"t":346.2,"v":23.9},{"t":349.3,"v":21.7},{"t":352.4,"v":21.8},{"t":355.5,"v":22.1},{"t":359.5,"v":22.0},{"t":363.6,"v":21.9},{"t":367.7,"v":21.3},{"t":371.8,"v":20.5},{"t":376,"v":20.6},{"t":380,"v":21.1},{"t":383,"v":21.8},{"t":386.2,"v":22.4},{"t":389.3,"v":21.2},{"t":392.3,"v":19.2},{"t":395.4,"v":17.1},{"t":398.5,"v":15.3},{"t":400.5,"v":15.8},{"t":402.6,"v":17.9},{"t":405.6,"v":21.3},{"t":408.7,"v":25.0},{"t":411.3,"v":28.0},{"t":414,"v":30.3},{"t":416.5,"v":28.8},{"t":419,"v":26.9},{"t":421.5,"v":25.2},{"t":423.9,"v":24.0},{"t":426.5,"v":25.8},{"t":429.2,"v":28.2},{"t":432.3,"v":31.2},{"t":435.4,"v":34.0},{"t":438.5,"v":36.2},{"t":441.5,"v":37.9},{"t":444,"v":37.3},{"t":446.4,"v":35.9},{"t":448.5,"v":34.8},{"t":450.5,"v":34.0},{"t":453.2,"v":36.2},{"t":455.9,"v":38.8},{"t":458.6,"v":40.9},{"t":461.2,"v":42.7},{"t":464,"v":43.1},{"t":467,"v":43.4},{"t":469.6,"v":44.3},{"t":472.3,"v":45.6},{"t":475.3,"v":47.9},{"t":478.4,"v":50.1},{"t":481.4,"v":51.5},{"t":484.5,"v":52.1},{"t":486.6,"v":51.3},{"t":488.6,"v":50.1},{"t":490.7,"v":48.4},{"t":492.7,"v":46.9},{"t":494.8,"v":46.4},{"t":496.8,"v":46.6},{"t":499,"v":47.7}],
"c7":[{"t":0,"v":9.8},{"t":2.5,"v":9.1},{"t":4.9,"v":8.5},{"t":7,"v":8.2},{"t":9,"v":8.1},{"t":11,"v":8.9},{"t":13.1,"v":10.1},{"t":15.2,"v":11.6},{"t":17.2,"v":12.7},{"t":19.2,"v":11.6},{"t":21.3,"v":10.1},{"t":23.4,"v":8.9},{"t":25.4,"v":7.9},{"t":28.5,"v":8.4},{"t":31.6,"v":9.2},{"t":34.7,"v":10.1},{"t":37.7,"v":10.8},{"t":40.8,"v":10.8},{"t":43.9,"v":10.5},{"t":47,"v":9.8},{"t":50,"v":9.2},{"t":53,"v":8.8},{"t":56.1,"v":8.5},{"t":59.2,"v":10.0},{"t":62.3,"v":12.1},{"t":65.4,"v":13.6},{"t":68.4,"v":14.6},{"t":71,"v":13.8},{"t":73.4,"v":12.4},{"t":76,"v":11.2},{"t":78.7,"v":10.1},{"t":81.2,"v":11.2},{"t":83.6,"v":12.2},{"t":86.3,"v":11.9},{"t":88.9,"v":11.4},{"t":92,"v":10.5},{"t":95,"v":9.8},{"t":97.7,"v":9.4},{"t":100.4,"v":9.2},{"t":103.2,"v":10.6},{"t":106,"v":12.7},{"t":108.8,"v":14.3},{"t":111.5,"v":15.4},{"t":113.6,"v":15.0},{"t":115.6,"v":14.0},{"t":118.3,"v":11.9},{"t":120.9,"v":10.1},{"t":123.4,"v":10.5},{"t":125.8,"v":11.1},{"t":129,"v":11.2},{"t":132,"v":11.4},{"t":134.7,"v":12.7},{"t":137.3,"v":14.0},{"t":139.8,"v":15.6},{"t":142.2,"v":16.6},{"t":144.6,"v":15.0},{"t":147,"v":12.7},{"t":149.1,"v":11.0},{"t":151.2,"v":9.8},{"t":153.9,"v":10.4},{"t":156.6,"v":11.4},{"t":159.7,"v":12.6},{"t":162.7,"v":13.7},{"t":165.8,"v":12.4},{"t":168.9,"v":10.8},{"t":171.6,"v":9.6},{"t":174.2,"v":8.8},{"t":177.1,"v":9.5},{"t":180,"v":10.5},{"t":183.2,"v":11.4},{"t":186.5,"v":12.1},{"t":189,"v":13.7},{"t":191.4,"v":15.3},{"t":194,"v":16.6},{"t":196.7,"v":17.5},{"t":199.2,"v":16.7},{"t":201.6,"v":15.3},{"t":204.3,"v":13.2},{"t":207,"v":11.4},{"t":209.5,"v":10.8},{"t":212,"v":10.5},{"t":215,"v":11.8},{"t":218,"v":13.4},{"t":220.7,"v":14.6},{"t":223.4,"v":15.6},{"t":225.8,"v":14.3},{"t":228.3,"v":12.7},{"t":230.8,"v":10.6},{"t":233.2,"v":8.8},{"t":235.8,"v":8.5},{"t":238.5,"v":9.5},{"t":240.7,"v":12.1},{"t":243.9,"v":15.3},{"t":246.8,"v":16.3},{"t":250.9,"v":14.6},{"t":253.6,"v":13.4},{"t":256.3,"v":12.4},{"t":259.7,"v":13.2},{"t":263.2,"v":14.0},{"t":266.3,"v":14.7},{"t":269.4,"v":15.3},{"t":272,"v":15.8},{"t":274.7,"v":16.3},{"t":277.2,"v":14.0},{"t":279.6,"v":11.4},{"t":282.3,"v":9.7},{"t":285,"v":8.5},{"t":288.5,"v":9.3},{"t":292,"v":10.1},{"t":295,"v":11.7},{"t":298.1,"v":13.4},{"t":301.2,"v":14.0},{"t":304.2,"v":14.6},{"t":306.9,"v":15.3},{"t":309.6,"v":15.9},{"t":312,"v":13.8},{"t":314.5,"v":11.4},{"t":317,"v":9.4},{"t":319.4,"v":7.9},{"t":323,"v":8.3},{"t":326.8,"v":8.8},{"t":330,"v":9.5},{"t":333,"v":10.1},{"t":336,"v":10.9},{"t":339,"v":11.7},{"t":343.2,"v":13.4},{"t":348.1,"v":12.7},{"t":353.4,"v":14.0},{"t":356.5,"v":13.2},{"t":359.5,"v":12.4},{"t":362.6,"v":11.9},{"t":365.7,"v":11.4},{"t":368.8,"v":10.9},{"t":371.8,"v":10.5},{"t":374.3,"v":10.0},{"t":376.8,"v":9.5},{"t":379.5,"v":10.1},{"t":382.1,"v":10.8},{"t":385.2,"v":11.8},{"t":388.2,"v":12.7},{"t":392.3,"v":14.0},{"t":394.4,"v":12.6},{"t":396.4,"v":11.4},{"t":398.5,"v":10.9},{"t":400.5,"v":10.8},{"t":403.6,"v":13.5},{"t":406.7,"v":16.6},{"t":409.8,"v":18.8},{"t":412.8,"v":20.5},{"t":415.3,"v":18.2},{"t":417.7,"v":15.9},{"t":419.8,"v":12.8},{"t":421.8,"v":10.1},{"t":425.1,"v":9.2},{"t":428.2,"v":11.5},{"t":431.3,"v":14.0},{"t":434.4,"v":15.8},{"t":437.4,"v":17.2},{"t":442.3,"v":17.9},{"t":445,"v":15.9},{"t":447.7,"v":14.0},{"t":449.8,"v":12.5},{"t":451.8,"v":11.1},{"t":454.9,"v":13.2},{"t":457.9,"v":15.3},{"t":461,"v":17.5},{"t":464,"v":19.5},{"t":466.7,"v":17.8},{"t":469.4,"v":15.9},{"t":471.9,"v":12.8},{"t":474.3,"v":10.1},{"t":476.4,"v":10.3},{"t":478.4,"v":10.8},{"t":480.9,"v":12.6},{"t":483.3,"v":14.6},{"t":485.4,"v":16.2},{"t":487.4,"v":17.5},{"t":490,"v":18.1},{"t":492.7,"v":18.5},{"t":494.8,"v":20.0},{"t":496.8,"v":21.7},{"t":498,"v":23.5},{"t":499,"v":25.3}],
"c9":[{"t":0,"v":3.2},{"t":2.9,"v":2.7},{"t":5,"v":1.8},{"t":7,"v":1.1},{"t":8.6,"v":2.4},{"t":10.2,"v":3.7},{"t":12.3,"v":4.2},{"t":14.3,"v":4.5},{"t":17,"v":4.7},{"t":20,"v":5.0},{"t":23.4,"v":3.7},{"t":26.5,"v":3.4},{"t":29.5,"v":3.2},{"t":32.6,"v":2.6},{"t":35.7,"v":2.1},{"t":39.8,"v":1.7},{"t":42.8,"v":2.0},{"t":45.9,"v":2.4},{"t":49,"v":2.2},{"t":52,"v":1.9},{"t":56,"v":2.3},{"t":60.2,"v":2.7},{"t":63.3,"v":2.9},{"t":66.4,"v":3.0},{"t":69.5,"v":3.3},{"t":72.5,"v":3.7},{"t":75.6,"v":4.2},{"t":78.7,"v":4.6},{"t":81.8,"v":4.4},{"t":84.8,"v":4.0},{"t":88,"v":3.7},{"t":91,"v":3.4},{"t":94,"v":3.5},{"t":97,"v":3.7},{"t":100.2,"v":3.0},{"t":103.3,"v":2.3},{"t":106.4,"v":2.7},{"t":109.4,"v":3.0},{"t":112.5,"v":3.1},{"t":115.6,"v":3.2},{"t":118.7,"v":3.0},{"t":121.7,"v":2.7},{"t":125.8,"v":2.4},{"t":130,"v":2.1},{"t":133,"v":2.7},{"t":136,"v":3.2},{"t":139,"v":3.1},{"t":142.2,"v":3.0},{"t":146.3,"v":3.5},{"t":150.4,"v":4.0},{"t":153.5,"v":3.6},{"t":156.6,"v":3.2},{"t":159.7,"v":3.5},{"t":162.7,"v":3.7},{"t":166.8,"v":4.2},{"t":170.9,"v":4.6},{"t":174,"v":4.2},{"t":177,"v":3.7},{"t":180.1,"v":3.5},{"t":183.2,"v":3.4},{"t":186.3,"v":3.6},{"t":189.3,"v":3.8},{"t":193.4,"v":3.4},{"t":197.5,"v":3.0},{"t":200.6,"v":3.4},{"t":203.7,"v":3.7},{"t":206.8,"v":3.8},{"t":209.8,"v":3.8},{"t":213,"v":3.7},{"t":216,"v":3.7},{"t":220,"v":3.5},{"t":224.2,"v":3.2},{"t":228.3,"v":3.0},{"t":232.4,"v":2.7},{"t":235.5,"v":2.9},{"t":238.6,"v":3.0},{"t":241.7,"v":2.9},{"t":244.8,"v":2.7},{"t":249,"v":3.2},{"t":253,"v":3.7},{"t":256,"v":3.4},{"t":259.1,"v":3.0},{"t":263.2,"v":3.2},{"t":267.3,"v":3.4},{"t":271.4,"v":3.6},{"t":275.5,"v":3.7},{"t":279.6,"v":4.0},{"t":283.7,"v":4.3},{"t":286.8,"v":3.6},{"t":289.9,"v":3.0},{"t":294,"v":3.4},{"t":298,"v":3.7},{"t":302.2,"v":3.7},{"t":306.3,"v":3.7},{"t":310.4,"v":3.5},{"t":314.5,"v":3.4},{"t":318.6,"v":3.4},{"t":322.7,"v":3.4},{"t":326.8,"v":3.3},{"t":330.9,"v":3.2},{"t":334,"v":3.5},{"t":337,"v":3.7},{"t":340.1,"v":4.4},{"t":343.2,"v":5.0},{"t":346.3,"v":4.3},{"t":349.3,"v":3.7},{"t":353.4,"v":3.6},{"t":357.5,"v":3.4},{"t":361.6,"v":3.2},{"t":365.7,"v":3.0},{"t":369.8,"v":3.2},{"t":373.9,"v":3.4},{"t":377,"v":3.0},{"t":380,"v":2.7},{"t":383.1,"v":2.5},{"t":386.2,"v":2.3},{"t":389.3,"v":2.6},{"t":392.3,"v":2.9},{"t":395.4,"v":3.0},{"t":398.5,"v":3.2},{"t":400.6,"v":2.6},{"t":402.6,"v":2.1},{"t":405.7,"v":2.9},{"t":408.7,"v":3.7},{"t":410.8,"v":3.9},{"t":412.8,"v":4.0},{"t":415.9,"v":3.5},{"t":419,"v":3.0},{"t":422.1,"v":3.3},{"t":425.1,"v":3.7},{"t":428.2,"v":3.2},{"t":431.3,"v":2.7},{"t":435.4,"v":3.2},{"t":439.5,"v":3.7},{"t":442.6,"v":3.5},{"t":445.6,"v":3.2},{"t":448.7,"v":3.7},{"t":451.8,"v":4.3},{"t":454.5,"v":4.8},{"t":457.1,"v":5.3},{"t":459.6,"v":5.0},{"t":462,"v":4.6},{"t":465.1,"v":4.3},{"t":468.2,"v":4.0},{"t":471.3,"v":3.8},{"t":474.3,"v":3.7},{"t":476.4,"v":3.5},{"t":478.4,"v":3.4},{"t":480.9,"v":3.7},{"t":483.3,"v":4.0},{"t":485.4,"v":4.6},{"t":487.4,"v":5.3},{"t":489,"v":5.2},{"t":490.7,"v":5.0},{"t":492,"v":4.4},{"t":493.2,"v":3.7},{"t":494.8,"v":1.4},{"t":496.8,"v":2.7},{"t":498,"v":4.6},{"t":499,"v":4.3}]
},
"vconcat":[
{"hconcat":[
{"width":447,"height":290,
"title":{"text":"(ᴀ) Particle position x̃","orient":"bottom","anchor":"middle","offset":30,"baseline":"top","font":"DejaVu Serif","fontSize":22,"fontWeight":"normal","color":"#000"},
"encoding":{
"x":{"field":"t","type":"quantitative","scale":{"domain":[-25,524],"nice":false,"zero":false},"axis":{"values":[0,100,200,300,400,500],"title":"Time"}},
"y":{"field":"v","type":"quantitative","scale":{"domain":[-0.27,26.28],"nice":false,"zero":false},"axis":{"values":[0,5,10,15,20,25],"title":"L2-Norm Error %"}}},
"layer":[
{"data":{"name":"a5"},"mark":{"type":"line","strokeWidth":2.6,"point":{"filled":true,"size":24}},"encoding":{"color":{"datum":"50","type":"nominal","scale":{"domain":["50","70","90"],"range":["#1f77b4","#ff7f0e","#2ca02c"]},"legend":{"orient":"none","legendX":5,"legendY":4,"title":null,"labelExpr":"'Energy = ' + datum.label + '%'"}}}},
{"data":{"name":"a7"},"mark":{"type":"line","strokeWidth":2.6,"point":{"filled":true,"size":24}},"encoding":{"color":{"datum":"70","type":"nominal"}}},
{"data":{"name":"a9"},"mark":{"type":"line","strokeWidth":2.6,"point":{"filled":true,"size":24}},"encoding":{"color":{"datum":"90","type":"nominal"}}}
]},
{"width":447,"height":290,
"title":{"text":"(ʙ) Particle position in ỹ","orient":"bottom","anchor":"middle","offset":30,"baseline":"top","font":"DejaVu Serif","fontSize":22,"fontWeight":"normal","color":"#000"},
"encoding":{
"x":{"field":"t","type":"quantitative","scale":{"domain":[-25,524],"nice":false,"zero":false},"axis":{"values":[0,100,200,300,400,500],"title":"Time"}},
"y":{"field":"v","type":"quantitative","scale":{"domain":[-0.1,50.5],"nice":false,"zero":false},"axis":{"values":[0,10,20,30,40,50],"title":"L2-Norm Error %"}}},
"layer":[
{"data":{"name":"b5"},"mark":{"type":"line","strokeWidth":3,"interpolate":"monotone","point":{"filled":true,"size":24}},"encoding":{"color":{"datum":"50","type":"nominal","scale":{"domain":["50","70","90"],"range":["#1f77b4","#ff7f0e","#2ca02c"]},"legend":{"orient":"none","legendX":5,"legendY":4,"title":null,"labelExpr":"'Energy = ' + datum.label + '%'"}}}},
{"data":{"name":"b7"},"mark":{"type":"line","strokeWidth":3,"interpolate":"monotone","point":{"filled":true,"size":24}},"encoding":{"color":{"datum":"70","type":"nominal"}}},
{"data":{"name":"b9"},"mark":{"type":"line","strokeWidth":3,"interpolate":"monotone","point":{"filled":true,"size":24}},"encoding":{"color":{"datum":"90","type":"nominal"}}}
]}
],"spacing":85,"resolve":{"scale":{"color":"independent"},"legend":{"color":"independent"}}},
{"width":447,"height":289,
"title":{"text":"(ᴄ) Particle position z̃","orient":"bottom","anchor":"middle","offset":30,"baseline":"top","font":"DejaVu Serif","fontSize":22,"fontWeight":"normal","color":"#000"},
"encoding":{
"x":{"field":"t","type":"quantitative","scale":{"domain":[-25,524],"nice":false,"zero":false},"axis":{"values":[0,100,200,300,400,500],"title":"Time"}},
"y":{"field":"v","type":"quantitative","scale":{"domain":[-1.4,54.5],"nice":false,"zero":false},"axis":{"values":[0,10,20,30,40,50],"title":"L2-Norm Error %"}}},
"layer":[
{"data":{"name":"c5"},"mark":{"type":"line","strokeWidth":3,"interpolate":"monotone","point":{"filled":true,"size":24}},"encoding":{"color":{"datum":"50","type":"nominal","scale":{"domain":["50","70","90"],"range":["#1f77b4","#ff7f0e","#2ca02c"]},"legend":{"orient":"none","legendX":5,"legendY":4,"title":null,"labelExpr":"'Energy = ' + datum.label + '%'"}}}},
{"data":{"name":"c7"},"mark":{"type":"line","strokeWidth":3,"interpolate":"monotone","point":{"filled":true,"size":24}},"encoding":{"color":{"datum":"70","type":"nominal"}}},
{"data":{"name":"c9"},"mark":{"type":"line","strokeWidth":3,"interpolate":"monotone","point":{"filled":true,"size":24}},"encoding":{"color":{"datum":"90","type":"nominal"}}}
]}
],
"spacing":51,
"center":true,
"resolve":{"scale":{"color":"independent"},"legend":{"color":"independent"}},
"config":{
"font":"DejaVu Sans",
"view":{"stroke":"#333333","strokeWidth":1},
"axis":{"labelFont":"DejaVu Sans","labelFontSize":11.5,"labelColor":"#222222","titleFont":"DejaVu Sans","titleFontSize":12,"titleFontWeight":"normal","titleColor":"#222222","tickColor":"#333333","tickSize":3.5,"tickWidth":1,"domain":false,"gridColor":"#c8c8c8","gridWidth":1,"labelPadding":3.5},
"axisX":{"titlePadding":6},
"axisY":{"titlePadding":10},
"legend":{"labelFont":"DejaVu Sans","labelFontSize":8.5,"labelColor":"#222222","symbolType":"M-0.714,0L2.43,0M1,0A0.143,0.143,0,1,1,0.714,0A0.143,0.143,0,1,1,1,0","symbolSize":196,"symbolStrokeWidth":2,"padding":1,"labelOffset":15.7,"rowPadding":0,"strokeColor":"#d5d5d5","fillColor":"rgba(255,255,255,0.8)","cornerRadius":2}
}
}
